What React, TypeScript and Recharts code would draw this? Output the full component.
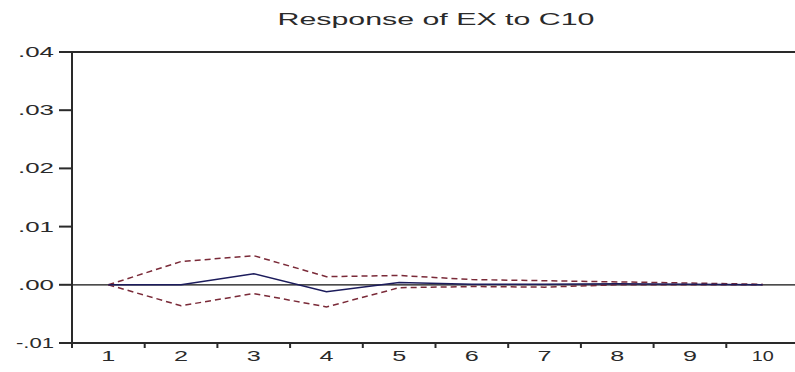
import { LineChart, Line, XAxis, YAxis, ReferenceLine } from "recharts";

// impulse response, periods 1..10
const periods = [1, 2, 3, 4, 5, 6, 7, 8, 9, 10];
const response = [0, 0, 0.0019, -0.0012, 0.0004, 0.0001, 0.0001, 0.0002, 0.0001, 0.0];
const upper = [0, 0.004, 0.005, 0.0014, 0.0016, 0.0009, 0.0007, 0.0005, 0.0003, 0.0001];
const lower = [0, -0.0036, -0.0015, -0.0038, -0.0005, -0.0003, -0.0004, 0.0, 0.0, 0.0];
const yTicks = [-0.01, 0, 0.01, 0.02, 0.03, 0.04];

const data = periods.map((p, i) => ({
  period: p,
  response: response[i],
  upper: upper[i],
  lower: lower[i],
}));

// tick marks sit between the periods, labels on the periods
const boundaries = periods.map((p) => p - 0.5);
const xTicks = [...boundaries, ...periods].sort((a, b) => a - b);

const FONT = "'Liberation Sans', Arial, sans-serif";
const INK = "#2a2a2a";

const fmtY = (v: number) => v.toFixed(2).replace("0.", ".");

const XTick = ({ x, y, payload }: any) => {
  const v = payload.value;
  if (!Number.isInteger(v)) {
    return <line x1={x} x2={x} y1={y} y2={y + 5} stroke={INK} strokeWidth={2} />;
  }
  const label = String(v);
  return (
    <text
      x={x}
      y={y}
      dy={18}
      textAnchor="middle"
      fontFamily={FONT}
      fontSize={15}
      fill={INK}
      textLength={label.length > 1 ? 22 : 14}
      lengthAdjust="spacingAndGlyphs"
    >
      {label}
    </text>
  );
};

const YTick = ({ x, y, payload }: any) => {
  const label = fmtY(payload.value);
  return (
    <text
      x={x}
      y={y}
      dy={5}
      textAnchor="end"
      fontFamily={FONT}
      fontSize={14}
      fill={INK}
      textLength={label.length > 3 ? 38 : 36}
      lengthAdjust="spacingAndGlyphs"
    >
      {label}
    </text>
  );
};

export default function App() {
  return (
    <div
      style={{
        position: "absolute",
        left: 0,
        top: 0,
        width: 795,
        height: 372,
        overflow: "hidden",
        background: "#fff",
      }}
    >
      <svg width={795} height={40} style={{ position: "absolute", left: 0, top: 0 }}>
        <text
          x={436}
          y={25}
          textAnchor="middle"
          fontFamily={FONT}
          fontSize={17}
          fill={INK}
          textLength={317}
          lengthAdjust="spacingAndGlyphs"
        >
          Response of EX to C10
        </text>
      </svg>
      <LineChart
        width={800}
        height={372}
        data={data}
        margin={{ top: 52, right: 1, left: 0, bottom: 0 }}
      >
        <XAxis
          dataKey="period"
          type="number"
          domain={[0.5, 10.5]}
          ticks={xTicks}
          interval={0}
          height={29}
          tickSize={0}
          tickMargin={0}
          tickLine={false}
          tick={<XTick />}
          axisLine={{ stroke: INK, strokeWidth: 2 }}
        />
        <YAxis
          type="number"
          domain={[-0.01, 0.04]}
          ticks={yTicks}
          interval={0}
          width={72}
          tickSize={13}
          tickMargin={5}
          tickLine={{ stroke: INK, strokeWidth: 2 }}
          tick={<YTick />}
          axisLine={{ stroke: INK, strokeWidth: 2 }}
        />
        <ReferenceLine y={0.04} stroke={INK} strokeWidth={2} />
        <ReferenceLine y={0} stroke="#111" strokeWidth={1.2} />
        <Line
          dataKey="upper"
          stroke="#7a2a38"
          strokeWidth={1.5}
          strokeDasharray="6 4"
          dot={false}
          isAnimationActive={false}
        />
        <Line
          dataKey="lower"
          stroke="#7a2a38"
          strokeWidth={1.5}
          strokeDasharray="6 4"
          dot={false}
          isAnimationActive={false}
        />
        <Line
          dataKey="response"
          stroke="#1c1c5c"
          strokeWidth={1.5}
          dot={false}
          isAnimationActive={false}
        />
      </LineChart>
    </div>
  );
}
